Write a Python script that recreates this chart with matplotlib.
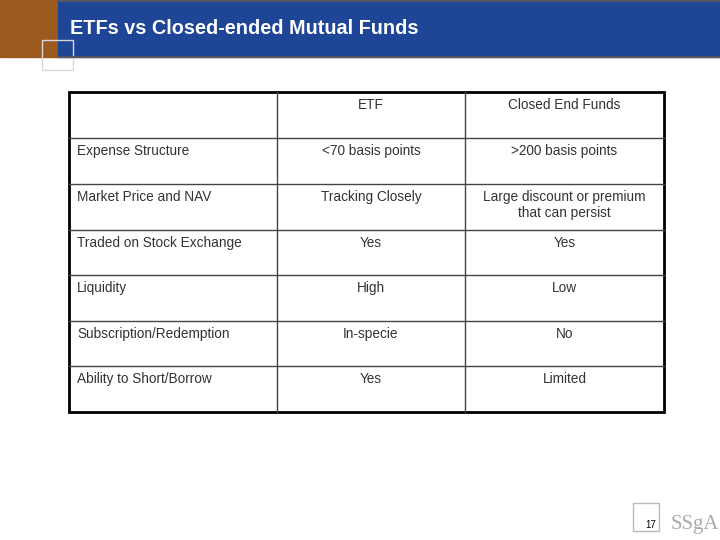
import matplotlib
matplotlib.use("Agg")
import matplotlib.pyplot as plt
from matplotlib.patches import Rectangle

title = "ETFs vs Closed-ended Mutual Funds"
columns = ["", "ETF", "Closed End Funds"]
row_labels = ["Expense Structure", "Market Price and NAV", "Traded on Stock Exchange",
              "Liquidity", "Subscription/Redemption", "Ability to Short/Borrow"]
etf_vals = ["<70 basis points", "Tracking Closely", "Yes", "High", "In-specie", "Yes"]
cef_vals = [">200 basis points", "Large discount or premium\nthat can persist", "Yes",
            "Low", "No", "Limited"]

fig = plt.figure(figsize=(7.2, 5.4), dpi=100)
ax = fig.add_axes([0, 0, 1, 1])
ax.set_xlim(0, 720)
ax.set_ylim(540, 0)
ax.axis("off")

# header band
ax.add_patch(Rectangle((0, 0), 58, 57, color="#9c5a1e"))
ax.add_patch(Rectangle((58, 0), 662, 57, color="#1e4596"))
ax.plot([58, 720], [57, 57], color="#555566", lw=1.5)
ax.plot([58, 720], [0.5, 0.5], color="#555566", lw=1.5)
ax.add_patch(Rectangle((42, 40), 31, 30, fill=False, ec="#d8d8d8", lw=1))
ax.text(70, 28, title, color="white", fontsize=14.3, fontweight="bold",
        family="Liberation Sans", va="center")

# table
col_x = [69, 277, 465, 664]
row_y = [92, 138, 184, 230, 275, 321, 366, 412]
for x in col_x[1:-1]:
    ax.plot([x, x], [row_y[0], row_y[-1]], color="#444444", lw=1)
for y in row_y[1:-1]:
    ax.plot([col_x[0], col_x[-1]], [y, y], color="#444444", lw=1)
ax.add_patch(Rectangle((col_x[0], row_y[0]), col_x[-1] - col_x[0], row_y[-1] - row_y[0],
                       fill=False, ec="black", lw=2))

fs = 9.8
kw = dict(fontsize=fs, family="Liberation Sans", color="#333333", va="top")
for j, c in enumerate(columns):
    if c:
        ax.text((col_x[j] + col_x[j + 1]) / 2, row_y[0] + 6, c, ha="center", **kw)
for i in range(len(row_labels)):
    y = row_y[i + 1] + 6
    ax.text(col_x[0] + 8, y, row_labels[i], ha="left", **kw)
    ax.text((col_x[1] + col_x[2]) / 2, y, etf_vals[i], ha="center", **kw)
    ax.text((col_x[2] + col_x[3]) / 2, y, cef_vals[i], ha="center",
            linespacing=1.2, **kw)

# footer
ax.add_patch(Rectangle((633, 503), 26, 28, fill=False, ec="#bbbbbb", lw=1))
ax.text(656, 525, "17", fontsize=7, ha="right", va="center", family="Liberation Sans")
ax.text(671, 525, "SSgA", fontsize=15, color="#aaaaaa", family="Liberation Serif",
        ha="left", va="center")

fig.savefig("out.png", dpi=100)
